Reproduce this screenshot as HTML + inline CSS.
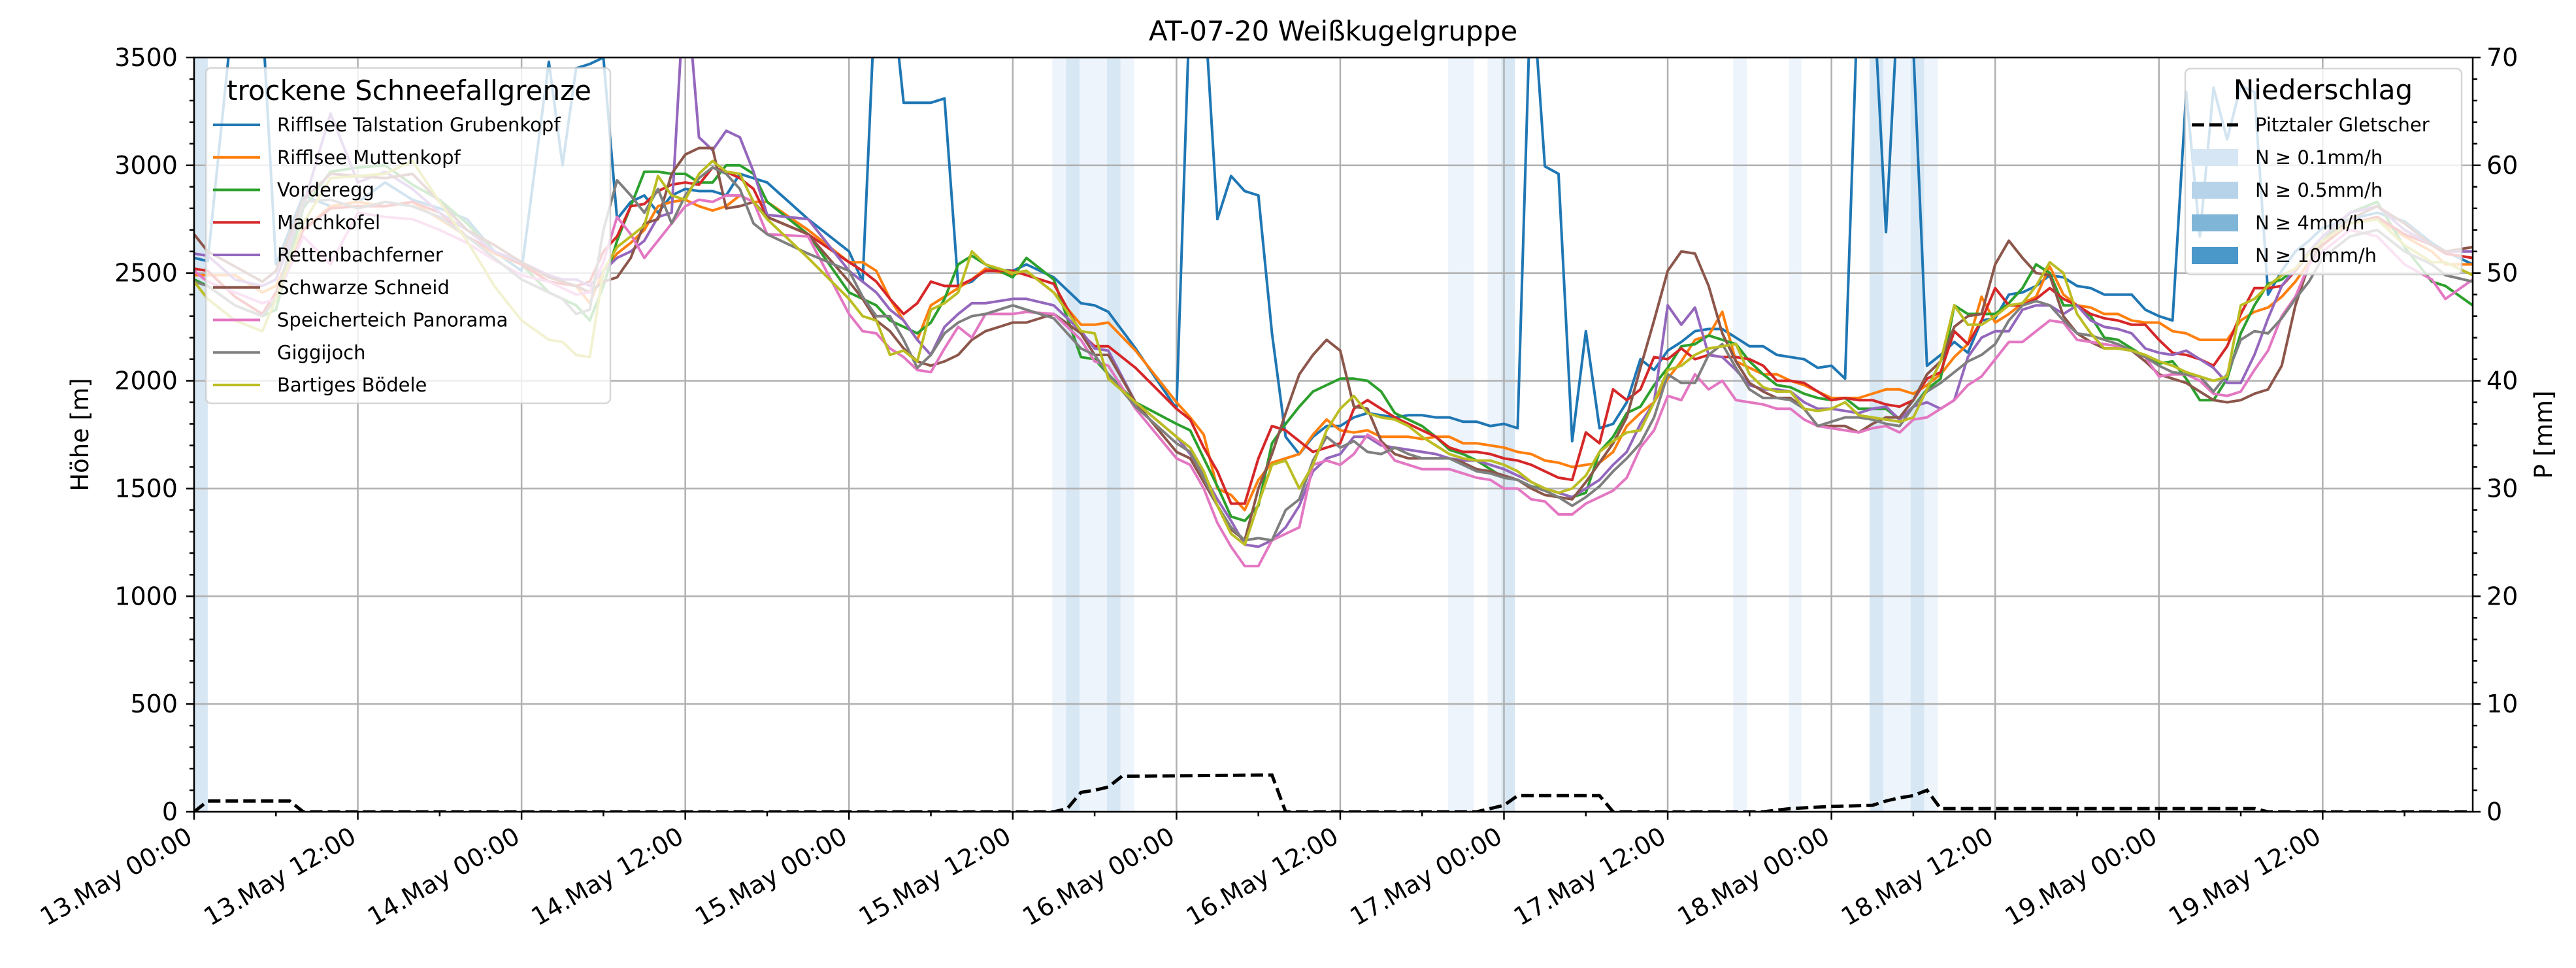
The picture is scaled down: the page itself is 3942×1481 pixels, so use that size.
<!DOCTYPE html>
<html><head><meta charset="utf-8"><style>
html,body{margin:0;padding:0;background:#fff;}
svg{display:block;font-family:"DejaVu Sans","Liberation Sans",sans-serif;}
</style></head><body>
<svg id="chart" width="3942" height="1481" viewBox="0 0 3942 1481" xmlns="http://www.w3.org/2000/svg">
<defs><clipPath id="plotclip"><rect x="297" y="88" width="3487" height="1154"/></clipPath></defs>
<text x="2040" y="62" font-size="42" text-anchor="middle">AT-07-20 Weißkugelgruppe</text>
<text transform="translate(135,665) rotate(-90)" font-size="37" text-anchor="middle">Höhe [m]</text>
<text transform="translate(3905,665) rotate(-90)" font-size="37" text-anchor="middle">P [mm]</text>
<g id="bands" clip-path="url(#plotclip)"></g>
<g id="grid"></g>
<g id="precip" clip-path="url(#plotclip)"></g>
<g id="lines" clip-path="url(#plotclip)"></g>
<g id="axes"></g>
<g id="legends"></g>
</svg>
<script>
const times = [0,1,3,5,6,8,10,12,14,16,18,20,22,24,26,27,28,29,30,31,32,33,34,35,36,37,38,39,40,41,
42,45,48,49,50,51,52,53,54,55,56,57,58,60,61,63,65,66,67,69,72,73,74,75,76,77,78,79,80,81,82,83,
84,85,86,87,88,89,90,91,92,93,94,95,96,97,98,99,100,101,102,103,104,105,106,107,108,109,110,111,112,113,114,115,116,117,118,119,120,121,122,123,124,125,
126,127,128,129,130,131,132,133,134,135,136,137,138,139,140,141,142,143,144,145,146,147,148,149,150,151,152,153,154,155,156,158,160,162,164,165,167];
const seriesNames = ["Rifflsee Talstation Grubenkopf","Rifflsee Muttenkopf","Vorderegg","Marchkofel","Rettenbachferner","Schwarze Schneid","Speicherteich Panorama","Giggijoch","Bartiges Bödele"];
const blueVals = [2570,2555,3800,3700,2540,2860,2810,2830,2920,2840,2800,2750,2600,2510,3480,3000,3450,3470,3500,2750,2830,2860,2780,2860,2890,2880,2880,2860,2960,2940,
2920,2750,2600,2460,3900,3900,3290,3290,3290,3310,2440,2460,2520,2510,2540,2480,2360,2350,2320,2150,1870,3800,3800,2750,2950,2880,2860,2220,1740,1660,1740,1790,
1790,1830,1850,1840,1830,1840,1840,1830,1830,1810,1810,1790,1800,1780,3900,2995,2960,1720,2230,1780,1800,1900,2100,2050,2140,2180,2230,2240,2240,2200,2160,2160,2120,2110,2100,2060,2070,2010,3900,3900,2690,3900,
3550,2070,2120,2180,2130,2280,2290,2400,2410,2440,2490,2480,2440,2430,2400,2400,2400,2330,2300,2280,3340,2670,3360,3120,3370,3340,2400,2510,2600,2650,2710,2750,2780,2740,2640,2600,2540];
const orangeVals = [2490,2490,2490,2410,2440,2700,2810,2830,2810,2830,2750,2670,2590,2540,2480,2460,2440,2360,2510,2590,2640,2700,2810,2830,2840,2810,2790,2810,2860,2830,
2830,2700,2550,2550,2510,2380,2280,2190,2350,2390,2430,2470,2520,2490,2510,2410,2260,2260,2270,2140,1900,1830,1750,1500,1470,1400,1540,1620,1640,1660,1750,1820,
1770,1760,1770,1740,1740,1740,1730,1740,1740,1710,1710,1700,1690,1670,1660,1630,1620,1600,1610,1620,1670,1790,1850,1900,2010,2090,2190,2210,2320,2090,2060,2030,2030,2000,1980,1950,1920,1920,1920,1940,1960,1960,
1940,1980,2030,2110,2170,2390,2270,2310,2360,2390,2530,2400,2350,2340,2310,2310,2280,2270,2270,2230,2220,2190,2190,2190,2280,2320,2340,2390,2460,2550,2630,2730,2750,2670,2600,2540,2540];
const greenVals = [2470,2440,2350,2300,2330,2800,2970,2990,3000,2910,2840,2730,2600,2540,2410,2380,2350,2280,2440,2650,2810,2970,2970,2960,2960,2920,2920,3000,3000,2960,
2830,2680,2410,2380,2350,2280,2250,2220,2270,2380,2540,2580,2540,2480,2570,2470,2110,2100,2030,1900,1800,1770,1640,1510,1370,1350,1420,1710,1800,1880,1950,1980,
2010,2010,2000,1950,1850,1820,1790,1740,1680,1660,1630,1590,1550,1540,1510,1500,1480,1460,1480,1670,1740,1850,1880,1980,2060,2160,2170,2210,2190,2170,2090,2030,1980,1970,1940,1920,1910,1920,1870,1870,1870,1820,
1880,1960,2010,2350,2310,2310,2310,2360,2430,2540,2500,2350,2350,2300,2200,2190,2150,2110,2080,2090,2010,1910,1910,2010,2220,2350,2450,2470,2520,2590,2650,2780,2830,2620,2460,2440,2350];
const redVals = [2520,2510,2390,2310,2410,2700,2800,2810,2810,2830,2780,2670,2600,2540,2460,2450,2440,2460,2600,2670,2810,2820,2880,2910,2920,2910,2990,2970,2940,2890,
2760,2680,2550,2510,2460,2380,2310,2360,2460,2440,2440,2470,2510,2510,2490,2450,2220,2160,2160,2060,1870,1820,1690,1580,1430,1430,1640,1790,1770,1720,1670,1690,
1710,1870,1910,1870,1830,1800,1770,1740,1690,1670,1670,1660,1640,1630,1610,1580,1550,1540,1760,1710,1960,1910,1960,2110,2100,2150,2100,2120,2110,2110,2100,2070,2000,2000,1990,1950,1910,1920,1910,1910,1890,1880,
1910,2010,2040,2230,2170,2280,2430,2350,2350,2380,2430,2380,2350,2310,2290,2280,2260,2260,2190,2130,2120,2100,2070,2160,2310,2430,2430,2440,2510,2590,2630,2730,2760,2680,2630,2590,2570];
const purpleVals = [2590,2580,2470,2440,2470,2810,3240,2920,2970,2890,2780,2700,2600,2550,2490,2470,2470,2440,2510,2570,2600,2650,2760,2780,3900,3130,3070,3160,3130,2970,
2770,2750,2510,2460,2410,2330,2280,2190,2120,2250,2310,2360,2360,2380,2380,2350,2230,2150,2140,1900,1740,1660,1560,1450,1350,1240,1230,1260,1320,1420,1580,1640,
1660,1740,1740,1700,1690,1680,1670,1660,1640,1630,1630,1610,1590,1560,1530,1500,1480,1460,1500,1540,1610,1670,1800,1900,2350,2260,2340,2120,2110,2050,1980,1960,1960,1950,1900,1870,1870,1860,1850,1870,1880,1820,
1880,1900,1870,1910,2110,2200,2230,2230,2330,2350,2350,2310,2350,2280,2250,2240,2220,2150,2130,2120,2140,2100,2060,1990,1990,2120,2290,2440,2520,2600,2670,2780,2810,2700,2630,2600,2600];
const brownVals = [2680,2600,2530,2460,2510,2840,2960,2950,2940,2960,2830,2700,2630,2550,2480,2460,2440,2410,2460,2480,2570,2730,2750,2960,3050,3080,3080,2800,2810,2830,
2760,2680,2460,2380,2280,2230,2150,2090,2070,2090,2120,2190,2230,2270,2270,2310,2220,2120,2120,1900,1670,1640,1530,1420,1310,1260,1500,1660,1850,2030,2120,2190,
2140,1880,1870,1720,1660,1640,1640,1640,1640,1620,1590,1580,1560,1540,1500,1470,1460,1450,1530,1620,1710,1830,2060,2280,2510,2600,2590,2440,2220,2090,1990,1950,1920,1920,1870,1790,1790,1790,1760,1800,1830,1830,
1910,2030,2090,2250,2300,2310,2540,2650,2570,2500,2490,2300,2220,2180,2150,2150,2140,2090,2030,2010,1990,1950,1910,1900,1910,1940,1960,2070,2350,2540,2650,2750,2810,2730,2630,2600,2620];
const pinkVals = [2510,2460,2410,2360,2380,2670,2540,2780,2760,2750,2700,2640,2560,2490,2460,2430,2400,2410,2550,2760,2680,2570,2650,2730,2810,2840,2830,2860,2860,2830,
2680,2670,2310,2230,2220,2150,2110,2050,2040,2150,2250,2200,2310,2310,2320,2310,2190,2090,2070,1870,1640,1610,1500,1340,1230,1140,1140,1260,1290,1320,1610,1630,
1610,1660,1750,1710,1630,1610,1590,1590,1590,1570,1550,1540,1500,1500,1450,1440,1380,1380,1430,1460,1490,1550,1690,1770,1930,1910,2030,1960,2000,1910,1900,1890,1870,1870,1820,1790,1780,1770,1760,1780,1790,1760,
1820,1830,1870,1910,1980,2020,2100,2180,2180,2230,2280,2270,2190,2180,2170,2160,2140,2110,2020,2030,2030,2000,1940,1930,1950,2050,2140,2300,2390,2540,2600,2700,2670,2540,2470,2380,2470];
const greyVals = [2460,2440,2350,2300,2380,2830,2840,2800,2830,2810,2760,2670,2570,2470,2410,2380,2310,2330,2700,2930,2860,2780,2890,2730,2860,2940,2990,2960,2890,2730,
2680,2590,2510,2390,2300,2300,2190,2060,2120,2220,2270,2300,2310,2350,2330,2290,2150,2120,2030,1880,1710,1670,1550,1420,1320,1260,1270,1260,1400,1450,1630,1740,
1690,1720,1670,1660,1690,1660,1640,1640,1640,1610,1580,1570,1550,1540,1510,1490,1460,1420,1460,1510,1580,1640,1710,1830,2030,1990,1990,2120,2170,2060,1960,1920,1920,1910,1870,1790,1810,1830,1830,1820,1800,1790,
1880,1950,1990,2040,2090,2120,2170,2280,2350,2370,2350,2280,2220,2210,2190,2170,2140,2110,2070,2040,2030,2020,1950,2030,2190,2230,2220,2290,2380,2460,2570,2670,2700,2600,2540,2490,2460];
const oliveVals = [2460,2380,2280,2230,2380,2730,2940,2950,2960,3020,2830,2650,2440,2280,2190,2180,2120,2110,2510,2620,2670,2720,2950,2860,2840,2960,3020,2970,2960,2830,
2750,2570,2380,2300,2280,2120,2140,2090,2330,2360,2410,2600,2540,2500,2510,2410,2230,2220,2010,1900,1740,1690,1580,1420,1290,1240,1430,1610,1630,1500,1610,1770,
1870,1930,1850,1830,1820,1790,1740,1700,1660,1640,1630,1630,1610,1580,1530,1500,1480,1500,1560,1670,1720,1760,1770,1900,2050,2070,2120,2150,2160,2170,2030,1970,1950,1950,1870,1860,1870,1900,1840,1830,1820,1810,
1830,1960,2090,2350,2260,2260,2300,2350,2360,2440,2550,2500,2310,2220,2150,2150,2140,2120,2090,2070,2040,2020,2000,2020,2350,2380,2440,2490,2520,2590,2650,2730,2750,2630,2550,2550,2490];
const seriesColors = ["#1f77b4","#ff7f0e","#2ca02c","#d62728","#9467bd","#8c564b","#e377c2","#7f7f7f","#bcbd22"];
const precipTimes = [0,1,7,8,63,64,65,66,67,68,78,79,80,94,95,96,97,103,104,115,117,120,123,124,125,126,127,128,151,152,167];
const precipVals = [0,1.0,1.0,0,0,0.3,1.8,2.0,2.3,3.3,3.4,3.4,0,0,0.3,0.6,1.5,1.5,0,0,0.3,0.5,0.6,1.0,1.3,1.5,2.0,0.3,0.3,0,0];
const bandStarts = [0,62.9,63.9,64.9,66.9,67.9,91.9,94.8,95.8,112.8,116.9,122.8,123.8,125.8,126.8];
const bandEnds =   [1,63.9,64.9,66.9,67.9,68.9,93.8,95.8,96.8,113.8,117.8,123.8,125.8,126.8,127.8];
const bandLevels = [1,0,1,0,1,0,0,0,1,0,0,1,0,1,0];
const yTicks = [0,500,1000,1500,2000,2500,3000,3500];
const y2Ticks = [0,10,20,30,40,50,60,70];
const xTickLabels = ["13.May 00:00","13.May 12:00","14.May 00:00","14.May 12:00","15.May 00:00","15.May 12:00","16.May 00:00","16.May 12:00","17.May 00:00","17.May 12:00","18.May 00:00","18.May 12:00","19.May 00:00","19.May 12:00"];

const X0=297,X1=3784,Y0=88,Y1=1242,TMAX=167,VMAX=3500,PMAX=70;
const xs=t=>X0+t*(X1-X0)/TMAX;
const ys=v=>Y1-v/VMAX*(Y1-Y0);
const yp=p=>Y1-p/PMAX*(Y1-Y0);
const NS="http://www.w3.org/2000/svg";
function mk(tag,attrs,parent){const e=document.createElementNS(NS,tag);for(const k in attrs)e.setAttribute(k,attrs[k]);parent.appendChild(e);return e;}
const gB=document.getElementById('bands'),gG=document.getElementById('grid'),gP=document.getElementById('precip'),gL=document.getElementById('lines'),gA=document.getElementById('axes'),gLg=document.getElementById('legends');
const bandColors=["#edf4fb","#d7e7f4","#7fb6d8","#4a97c9"];
for(let i=0;i<bandStarts.length;i++){
  const r=mk('rect',{x:xs(bandStarts[i]),y:Y0,width:xs(bandEnds[i])-xs(bandStarts[i]),height:Y1-Y0,fill:bandColors[bandLevels[i]]},gB);
  
  
}
xTickLabels.forEach((lab,i)=>{
  const x=xs(i*12);
  const l=mk('line',{x1:x,x2:x,y1:Y0,y2:Y1,stroke:"#b0b0b0","stroke-width":2.5},gG);
  
  
});
yTicks.forEach(v=>{
  const l=mk('line',{x1:X0,x2:X1,y1:ys(v),y2:ys(v),stroke:"#b0b0b0","stroke-width":2.5},gG);
  
  
});
const allVals=[blueVals,orangeVals,greenVals,redVals,purpleVals,brownVals,pinkVals,greyVals,oliveVals];
allVals.forEach((vals,si)=>{
  const n=Math.min(vals.length,times.length);
  let d='';
  for(let i=0;i<n;i++){d+=(i?'L':'M')+xs(times[i]).toFixed(1)+','+ys(vals[i]).toFixed(1);}
  const p=mk('path',{d:d,fill:"none",stroke:seriesColors[si],"stroke-width":4,"stroke-linejoin":"round"},gL);
  
  
});
{
  let d='';
  for(let i=0;i<precipTimes.length;i++){d+=(i?'L':'M')+xs(precipTimes[i]).toFixed(1)+','+yp(precipVals[i]).toFixed(1);}
  const p=mk('path',{d:d,fill:"none",stroke:"#000","stroke-width":5,"stroke-dasharray":"19,8"},gP);
  
  
}
const fr=mk('rect',{x:X0,y:Y0,width:X1-X0,height:Y1-Y0,fill:"none",stroke:"#000","stroke-width":2.5},gA);


for(let v=0;v<=VMAX;v+=100){
  const major=v%500===0;
  const t=mk('line',{x1:X0,x2:X0-(major?12:7),y1:ys(v),y2:ys(v),stroke:"#000","stroke-width":2.5},gA);
  
  
}
yTicks.forEach(v=>{
  const t=mk('text',{x:272,y:ys(v)+13,"font-size":38,"text-anchor":"end"},gA);
  t.textContent=v;
  
  
});
for(let p=0;p<=PMAX;p+=2){
  const major=p%10===0;
  const t=mk('line',{x1:X1,x2:X1+(major?12:7),y1:yp(p),y2:yp(p),stroke:"#000","stroke-width":2.5},gA);
  
  
}
y2Ticks.forEach(p=>{
  const t=mk('text',{x:3805,y:yp(p)+13,"font-size":38,"text-anchor":"start"},gA);
  t.textContent=p;
  
  
});
for(let h=0;h<=TMAX;h+=6){
  const major=h%12===0;
  const t=mk('line',{x1:xs(h),x2:xs(h),y1:Y1,y2:Y1+(major?12:7),stroke:"#000","stroke-width":2.5},gA);
  
  
}
xTickLabels.forEach((lab,i)=>{
  const x=xs(i*12),y=1287;
  const t=mk('text',{x:x,y:y,"font-size":38,"text-anchor":"end",transform:`rotate(-30 ${x} ${y})`},gA);
  t.textContent=lab;
  
  
});
{
  const g=mk('g',{},gLg);
  
  
  mk('rect',{x:315,y:104,width:619,height:513,rx:8,fill:"#fff","fill-opacity":0.8,stroke:"#cccccc","stroke-opacity":0.8,"stroke-width":2.5},g);
  const tt=mk('text',{x:626,y:153,"font-size":42,"text-anchor":"middle"},g);
  tt.textContent="trockene Schneefallgrenze";
  
  
  seriesNames.forEach((nm,i)=>{
    const cy=191+i*49.75;
    const h=mk('line',{x1:326,x2:398,y1:cy,y2:cy,stroke:seriesColors[i],"stroke-width":4},g);
    
    
    const t=mk('text',{x:424,y:cy+10,"font-size":29},g);
    t.textContent=nm;
    
    
  });
}
{
  const g=mk('g',{},gLg);
  
  
  mk('rect',{x:3344,y:105,width:423,height:315,rx:8,fill:"#fff","fill-opacity":0.8,stroke:"#cccccc","stroke-opacity":0.8,"stroke-width":2.5},g);
  const tt=mk('text',{x:3555,y:152,"font-size":42,"text-anchor":"middle"},g);
  tt.textContent="Niederschlag";
  
  
  const labels=["Pitztaler Gletscher","N ≥ 0.1mm/h","N ≥ 0.5mm/h","N ≥ 4mm/h","N ≥ 10mm/h"];
  const pc=["#d6e6f4","#b7d3e9","#7fb6d8","#4a97c9"];
  labels.forEach((nm,i)=>{
    const cy=191+i*50;
    if(i===0){
      const h=mk('line',{x1:3354,x2:3425,y1:cy,y2:cy,stroke:"#000","stroke-width":5,"stroke-dasharray":"19,8"},g);
      
      
    } else {
      const h=mk('rect',{x:3354,y:cy-13,width:71,height:26,fill:pc[i-1]},g);
      
      
    }
    const t=mk('text',{x:3451,y:cy+10,"font-size":29},g);
    t.textContent=nm;
    
    
  });
}
</script>
</body></html>
